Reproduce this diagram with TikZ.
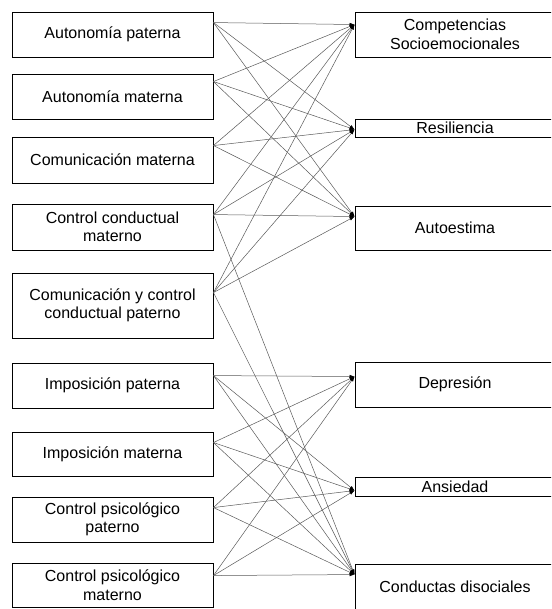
\documentclass[tikz,border=0pt]{standalone}
\usepackage{fontspec}
\setmainfont{Liberation Sans}
\usepackage{tikz}
\usetikzlibrary{arrows.meta}
\tikzstyle{factor}=[draw,line width=0.9pt,inner sep=0pt,align=center,minimum width=201pt,font=\fontsize{16}{18.5}\selectfont]
\tikzstyle{outcome}=[factor,minimum width=200pt]
\tikzstyle{link}=[-{Latex[black,length=5pt,width=3.5pt]},draw=black!65,line width=0.5pt]

\begin{document}
\begin{tikzpicture}[x=1pt,y=-1pt]
            \useasboundingbox (0,0) rectangle (551,609);
            \clip (0,0) rectangle (551,609);
            % parental practices
            \node[factor,minimum height=45pt] (l1) at (112.5,34.5) {Autonomía paterna};
            \node[factor,minimum height=45pt] (l2) at (112.5,96.5) {Autonomía materna};
            \node[factor,minimum height=46pt] (l3) at (112.5,160) {Comunicación materna};
            \node[factor,minimum height=46pt] (l4) at (112.5,227) {Control conductual\\materno};
            \node[factor,minimum height=65pt] (l5) at (112.5,305.5) {Comunicación y control\\conductual paterno};
            \node[factor,minimum height=45pt] (l6) at (112.5,385.5) {Imposición paterna};
            \node[factor,minimum height=44pt] (l7) at (112.5,454) {Imposición materna};
            \node[factor,minimum height=45pt] (l8) at (112.5,519.5) {Control psicológico\\paterno};
            \node[factor,minimum height=44pt] (l9) at (112.5,585) {Control psicológico\\materno};
            % adjustment
            \node[outcome,minimum height=45pt] (r1) at (455,34.5) {Competencias\\Socioemocionales};
            \node[outcome,minimum height=18pt] (r2) at (455,128) {Resiliencia};
            \node[outcome,minimum height=44pt] (r3) at (455,228) {Autoestima};
            \node[outcome,minimum height=45pt] (r4) at (455,384.5) {Depresión};
            \node[outcome,minimum height=19pt] (r5) at (455,486.5) {Ansiedad};
            \node[outcome,minimum height=46pt] (r6) at (455,587) {Conductas disociales};
            % ports
            \foreach \n/\d in {1/11,2/8,3/9,4/11,5/20,6/13,7/11,8/11,9/13}
                \coordinate (o\n) at ([yshift=-\d pt]l\n.north east);
            \foreach \n/\d in {1/13,2/11,3/11,4/15,5/14,6/11}
                \coordinate (i\n) at ([yshift=-\d pt]r\n.north west);
            \foreach \a/\b in {1/1,1/2,1/3,2/1,2/2,2/3,3/1,3/2,3/3,
                               4/1,4/2,4/3,4/6,5/1,5/2,5/3,5/6,
                               6/4,6/5,6/6,7/4,7/5,7/6,8/4,8/5,8/6,9/4,9/5,9/6}
                \draw[link] (o\a) -- (i\b);
        \end{tikzpicture}
\end{document}
